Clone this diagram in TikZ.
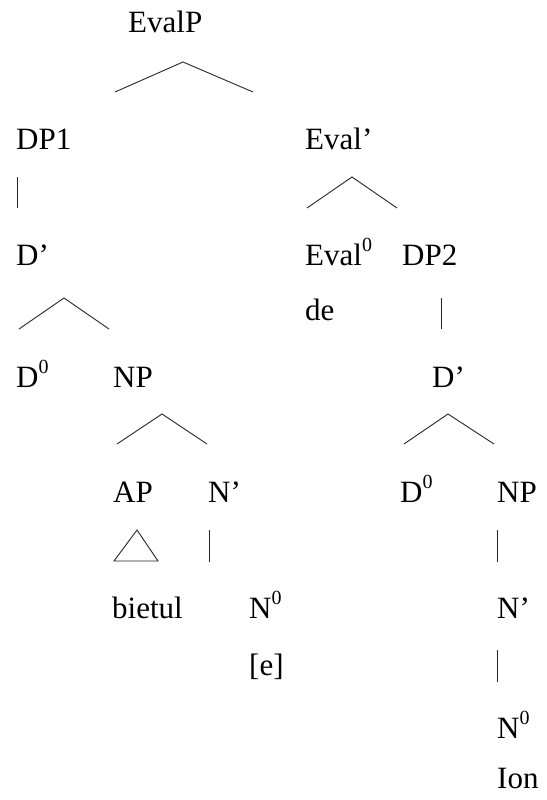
\documentclass[tikz,border=0pt]{standalone}
\usepackage{fontspec}
\setmainfont{Liberation Serif}
\newcommand{\supz}{\raisebox{0.42em}{\fontsize{20}{20}\selectfont 0}}
\begin{document}
\begin{tikzpicture}[x=1pt,y=-1pt,
  lbl/.style={anchor=base west,inner sep=0pt,font=\fontsize{31}{32}\selectfont},
  edge/.style={line width=0.9pt,draw=black!85}]
\useasboundingbox (0,0) rectangle (546,800);
% labels
\node[lbl] (evalp) at (128,33) {EvalP};
\node[lbl] (dp1) at (16,149) {DP1};
\node[lbl] (evalbar) at (305,149) {Eval’};
\node[lbl] (dbar1) at (16,265) {D’};
\node[lbl] (eval0) at (305,265) {Eval\supz};
\node[lbl] (dp2) at (402,265) {DP2};
\node[lbl] (de) at (305,320) {de};
\node[lbl] (d01) at (16,387) {D\supz};
\node[lbl] (np1) at (113,387) {NP};
\node[lbl] (dbar2) at (432,387) {D’};
\node[lbl] (ap) at (113,502) {AP};
\node[lbl] (nbar1) at (208,502) {N’};
\node[lbl] (d02) at (400,502) {D\supz};
\node[lbl] (np2) at (497,502) {NP};
\node[lbl] (bietul) at (112,618) {bietul};
\node[lbl] (n01) at (249,618) {N\supz};
\node[lbl] (nbar2) at (497,618) {N’};
\node[lbl] (e) at (249,675) {[e]};
\node[lbl] (n02) at (497,738) {N\supz};
\node[lbl] (ion) at (497,788) {Ion};
% branch points
\coordinate (t1) at (183,62);  \coordinate (l1) at (115,92);  \coordinate (r1) at (253,92);
\coordinate (v1a) at (17,177); \coordinate (v1b) at (17,208);
\coordinate (t2) at (352,177); \coordinate (l2) at (307,208); \coordinate (r2) at (397,208);
\coordinate (t3) at (64,298);  \coordinate (l3) at (19,329);  \coordinate (r3) at (109,329);
\coordinate (v2a) at (441,298); \coordinate (v2b) at (441,329);
\coordinate (t4) at (162,414); \coordinate (l4) at (117,444); \coordinate (r4) at (207,444);
\coordinate (t5) at (448,414); \coordinate (l5) at (404,444); \coordinate (r5) at (494,444);
\coordinate (tr1) at (137,530); \coordinate (tr2) at (114,561); \coordinate (tr3) at (158,561);
\coordinate (v3a) at (209,530); \coordinate (v3b) at (209,562);
\coordinate (v4a) at (497,530); \coordinate (v4b) at (497,562);
\coordinate (v5a) at (497,650); \coordinate (v5b) at (497,682);
% connectors
\draw[edge] (l1) -- (t1) -- (r1);
\draw[edge] (v1a) -- (v1b);
\draw[edge] (l2) -- (t2) -- (r2);
\draw[edge] (l3) -- (t3) -- (r3);
\draw[edge] (v2a) -- (v2b);
\draw[edge] (l4) -- (t4) -- (r4);
\draw[edge] (l5) -- (t5) -- (r5);
\draw[edge] (tr1) -- (tr2) -- (tr3) -- cycle;
\draw[edge] (v3a) -- (v3b);
\draw[edge] (v4a) -- (v4b);
\draw[edge] (v5a) -- (v5b);
\end{tikzpicture}
\end{document}
